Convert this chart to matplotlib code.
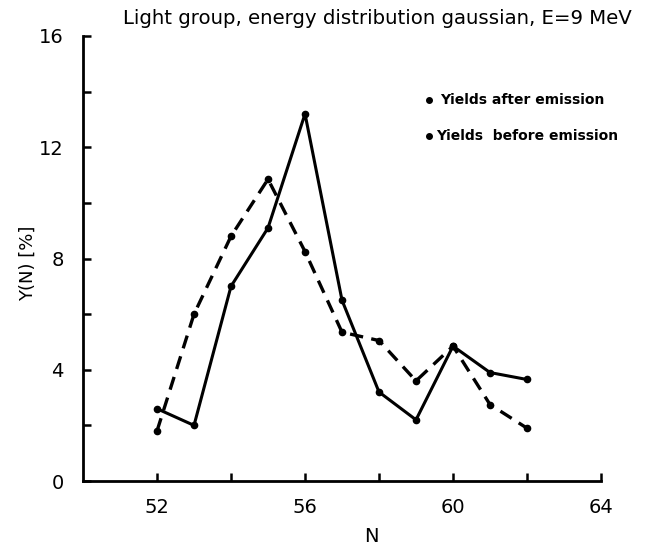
import matplotlib
matplotlib.use("Agg")
import matplotlib.pyplot as plt

N = [52, 53, 54, 55, 56, 57, 58, 59, 60, 61, 62]
after = [2.6, 2.0, 7.0, 9.1, 13.2, 6.5, 3.2, 2.2, 4.85, 3.9, 3.65]
before = [1.8, 6.0, 8.8, 10.85, 8.25, 5.35, 5.05, 3.6, 4.85, 2.75, 1.9]

xticks = [52, 54, 56, 58, 60, 62, 64]
xlabels = ["52", "", "56", "", "60", "", "64"]
yticks = [0, 2, 4, 6, 8, 10, 12, 14, 16]
ylabels = ["0", "", "4", "", "8", "", "12", "", "16"]

plt.rcParams['font.family'] = ['DejaVu Sans']

fig = plt.figure(figsize=(6.45, 5.51), dpi=100)
ax = fig.add_axes([0.1287, 0.127, 0.8031, 0.8077])

ax.plot(N, after, "-", color="k", lw=2.2, marker="o", ms=4.5)
ax.plot(N, before, "--", color="k", lw=2.4, dashes=(4, 2.5), marker="o", ms=4.5)

ax.set_xlim(50, 64)
ax.set_ylim(0, 16)
ax.set_xticks(xticks)
ax.set_xticklabels(xlabels)
ax.set_yticks(yticks)
ax.set_yticklabels(ylabels)
ax.tick_params(direction="in", length=6, width=1.8, labelsize=14, pad=12)
ax.tick_params(axis="y", pad=14)

for s in ["top", "right"]:
    ax.spines[s].set_visible(False)
for s in ["left", "bottom"]:
    ax.spines[s].set_linewidth(2)

ax.set_xlabel("N", fontsize=14)
ax.xaxis.set_label_coords(0.557, -0.103)
ax.set_ylabel("Y(N) [%]", fontsize=13)
ax.yaxis.set_label_coords(-0.09, 0.49)

fig.text(0.19, 0.967, "Light group, energy distribution gaussian, E=9 MeV",
         fontsize=14.2, va="center", ha="left")

# legend drawn as text entries
ax.plot([59.35], [13.7], "o", color="k", ms=4, clip_on=False)
ax.text(59.65, 13.7, "Yields after emission", fontsize=10, fontweight="bold", va="center")
ax.plot([59.35], [12.4], "o", color="k", ms=4, clip_on=False)
ax.text(59.55, 12.4, "Yields  before emission", fontsize=10, fontweight="bold", va="center")

fig.savefig("out.png", dpi=100)
